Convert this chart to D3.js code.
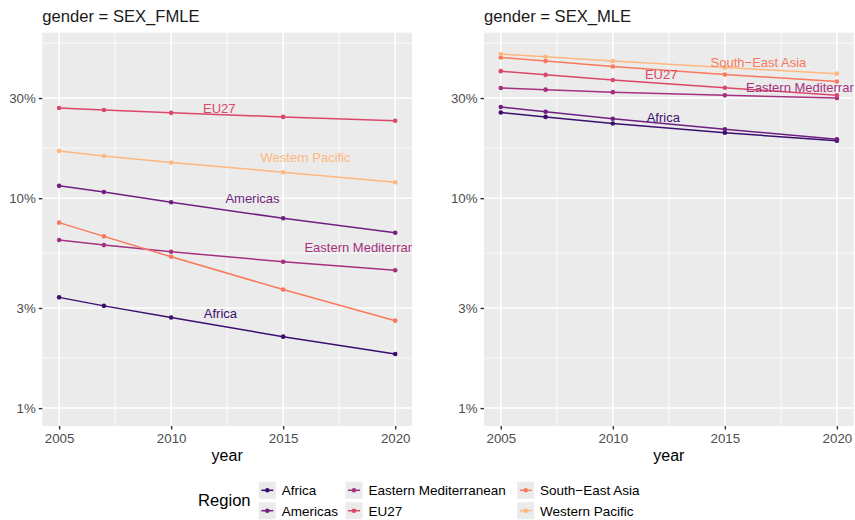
<!DOCTYPE html>
<html>
<head>
<meta charset="utf-8">
<script src="https://cdn.jsdelivr.net/npm/d3@7"></script>
<style>
  body { margin: 0; background: #fff; }
  svg { font-family: "Liberation Sans", Arial, sans-serif; }
</style>
</head>
<body>
<svg id="chart" width="855" height="520"></svg>
<script>
// values (percent)
const years = [2005, 2007, 2010, 2015, 2020];
const regions = ["Africa", "Americas", "Eastern Mediterranean", "EU27", "South\u2212East Asia", "Western Pacific"];

const fmleAfrica   = [3.37, 3.07, 2.70, 2.19, 1.81];
const fmleAmericas = [11.45, 10.7, 9.57, 8.02, 6.85];
const fmleEastMed  = [6.32, 5.98, 5.56, 4.98, 4.54];
const fmleEU27     = [26.9, 26.3, 25.5, 24.4, 23.4];
const fmleSEAsia   = [7.65, 6.58, 5.26, 3.67, 2.61];
const fmleWestPac  = [16.8, 15.9, 14.8, 13.3, 11.9];

const mleAfrica   = [25.6, 24.4, 22.7, 20.5, 18.8];
const mleAmericas = [27.2, 25.8, 23.9, 21.3, 19.1];
const mleEastMed  = [33.5, 32.9, 32.0, 30.9, 30.0];
const mleEU27     = [40.3, 38.7, 36.6, 33.6, 30.9];
const mleSEAsia   = [46.8, 45.0, 42.4, 38.8, 36.0];
const mleWestPac  = [48.6, 47.2, 45.0, 41.9, 39.2];

// direct labels: region, year, percent
const fmleLabelRegions = ["EU27", "Africa", "Americas", "Western Pacific", "Eastern Mediterranean"];
const fmleLabelYears   = [2012.15, 2012.2, 2013.63, 2016.0, 2018.9];
const fmleLabelValues  = [26.9, 2.84, 10.0, 15.7, 5.83];
const mleLabelRegions  = ["South\u2212East Asia", "EU27", "Eastern Mediterranean", "Africa"];
const mleLabelYears    = [2016.5, 2012.16, 2018.9, 2012.25];
const mleLabelValues   = [44.3, 38.8, 33.6, 24.2];

const xTicks = [2005, 2010, 2015, 2020];
const yTicks = [1, 3, 10, 30];
const yTickLabels = ["1%", "3%", "10%", "30%"];
const yLimits = [1, 50.5];

const panels = [
  {title: "gender = SEX_FMLE", left: 42.3,
   series: [fmleAfrica, fmleAmericas, fmleEastMed, fmleEU27, fmleSEAsia, fmleWestPac],
   labels: fmleLabelRegions.map((r, i) => ({region: r, year: fmleLabelYears[i], value: fmleLabelValues[i]}))},
  {title: "gender = SEX_MLE", left: 484,
   series: [mleAfrica, mleAmericas, mleEastMed, mleEU27, mleSEAsia, mleWestPac],
   labels: mleLabelRegions.map((r, i) => ({region: r, year: mleLabelYears[i], value: mleLabelValues[i]}))}
];

const svg = d3.select("#chart");
const panelW = 369.7, panelTop = 32.7, panelBottom = 426;

const color = d3.scaleOrdinal()
  .domain(regions)
  .range(regions.map((d, i) => d3.interpolateMagma(0.2 + i * 0.13)));

// ggplot-like 5% expansion, done in log space
const lg0 = Math.log10(yLimits[0]), lg1 = Math.log10(yLimits[1]);
const pad = (lg1 - lg0) * 0.05;
const y = d3.scaleLog()
  .domain([Math.pow(10, lg0 - pad), Math.pow(10, lg1 + pad)])
  .range([panelBottom, panelTop]);

// minor breaks halfway between majors (log space), plus one above 30%
const yMinor = [Math.sqrt(3), Math.sqrt(30), Math.sqrt(300), Math.sqrt(3000)];

panels.forEach((p, pi) => {
  const x = d3.scaleLinear()
    .domain([2005 - 0.75, 2020 + 0.75])
    .range([p.left, p.left + panelW]);

  const g = svg.append("g");

  g.append("rect")
    .attr("x", p.left).attr("y", panelTop)
    .attr("width", panelW).attr("height", panelBottom - panelTop)
    .attr("fill", "#ebebeb");

  const clipId = "clip" + pi;
  svg.append("clipPath").attr("id", clipId)
    .append("rect")
    .attr("x", p.left).attr("y", panelTop)
    .attr("width", panelW).attr("height", panelBottom - panelTop);

  const grid = g.append("g").attr("clip-path", "url(#" + clipId + ")");

  // minor grid
  grid.selectAll(".ym").data(yMinor).enter().append("line")
    .attr("x1", p.left).attr("x2", p.left + panelW)
    .attr("y1", d => y(d)).attr("y2", d => y(d))
    .attr("stroke", "#fff").attr("stroke-width", 0.75);
  grid.selectAll(".xm").data([2007.5, 2012.5, 2017.5]).enter().append("line")
    .attr("x1", d => x(d)).attr("x2", d => x(d))
    .attr("y1", panelTop).attr("y2", panelBottom)
    .attr("stroke", "#fff").attr("stroke-width", 0.75);

  // major grid
  grid.selectAll(".yM").data(yTicks).enter().append("line")
    .attr("x1", p.left).attr("x2", p.left + panelW)
    .attr("y1", d => y(d)).attr("y2", d => y(d))
    .attr("stroke", "#fff").attr("stroke-width", 1.5);
  grid.selectAll(".xM").data(xTicks).enter().append("line")
    .attr("x1", d => x(d)).attr("x2", d => x(d))
    .attr("y1", panelTop).attr("y2", panelBottom)
    .attr("stroke", "#fff").attr("stroke-width", 1.5);

  // axes
  const xAxis = g.append("g")
    .attr("transform", "translate(0," + panelBottom + ")")
    .call(d3.axisBottom(x).tickValues(xTicks).tickFormat(d3.format("d")).tickSize(3.5).tickPadding(3));
  const yAxis = g.append("g")
    .attr("transform", "translate(" + p.left + ",0)")
    .call(d3.axisLeft(y).tickValues(yTicks).tickFormat((d, i) => yTickLabels[i]).tickSize(3.5).tickPadding(3));
  [xAxis, yAxis].forEach(a => {
    a.select(".domain").remove();
    a.selectAll(".tick line").attr("stroke", "#333").attr("stroke-width", 1.4);
    a.selectAll(".tick text").attr("fill", "#4d4d4d").style("font-size", "13.3px");
  });
  xAxis.selectAll(".tick text").attr("dy", "0.78em");

  // axis title + strip title
  g.append("text")
    .attr("x", p.left + panelW / 2).attr("y", 461)
    .attr("text-anchor", "middle")
    .style("font-size", "16px").attr("fill", "#000")
    .text("year");
  g.append("text")
    .attr("x", p.left).attr("y", 21.5)
    .style("font-size", "16.6px").attr("fill", "#1a1a1a")
    .text(p.title);

  // lines + points
  const plot = g.append("g").attr("clip-path", "url(#" + clipId + ")");
  const line = d3.line()
    .x((d, i) => x(years[i]))
    .y(d => y(d));

  p.series.forEach((vals, si) => {
    plot.append("path")
      .datum(vals)
      .attr("d", line)
      .attr("fill", "none")
      .attr("stroke", color(regions[si]))
      .attr("stroke-width", 1.5);
    plot.selectAll(".pt" + si)
      .data(vals)
      .enter().append("circle")
      .attr("cx", (d, i) => x(years[i]))
      .attr("cy", d => y(d))
      .attr("r", 2.3)
      .attr("fill", color(regions[si]));
  });

  plot.selectAll(".lbl")
    .data(p.labels)
    .enter().append("text")
    .attr("x", d => x(d.year))
    .attr("y", d => y(d.value))
    .attr("text-anchor", "middle")
    .attr("dy", "0.36em")
    .style("font-size", "13px")
    .attr("fill", d => color(d.region))
    .text(d => d.region);
});

// legend
const legend = svg.append("g");
legend.append("text")
  .attr("x", 198).attr("y", 500.5)
  .attr("dy", "0.36em")
  .style("font-size", "16.6px")
  .text("Region");

const legendCols = [267.3, 354, 525.7];
const legendRows = [490.3, 510.7];
regions.forEach((r, i) => {
  const cx = legendCols[Math.floor(i / 2)], cy = legendRows[i % 2];
  const k = legend.append("g").attr("transform", "translate(" + cx + "," + cy + ")");
  k.append("rect")
    .attr("x", -8.5).attr("y", -8.5).attr("width", 17).attr("height", 17)
    .attr("fill", "#ebebeb");
  k.append("line")
    .attr("x1", -6).attr("x2", 6)
    .attr("stroke", color(r)).attr("stroke-width", 1.5);
  k.append("circle").attr("r", 2.3).attr("fill", color(r));
  k.append("text")
    .attr("x", 14.4).attr("dy", "0.36em")
    .style("font-size", "13.5px").attr("fill", "#000")
    .text(r);
});
</script>
</body>
</html>
